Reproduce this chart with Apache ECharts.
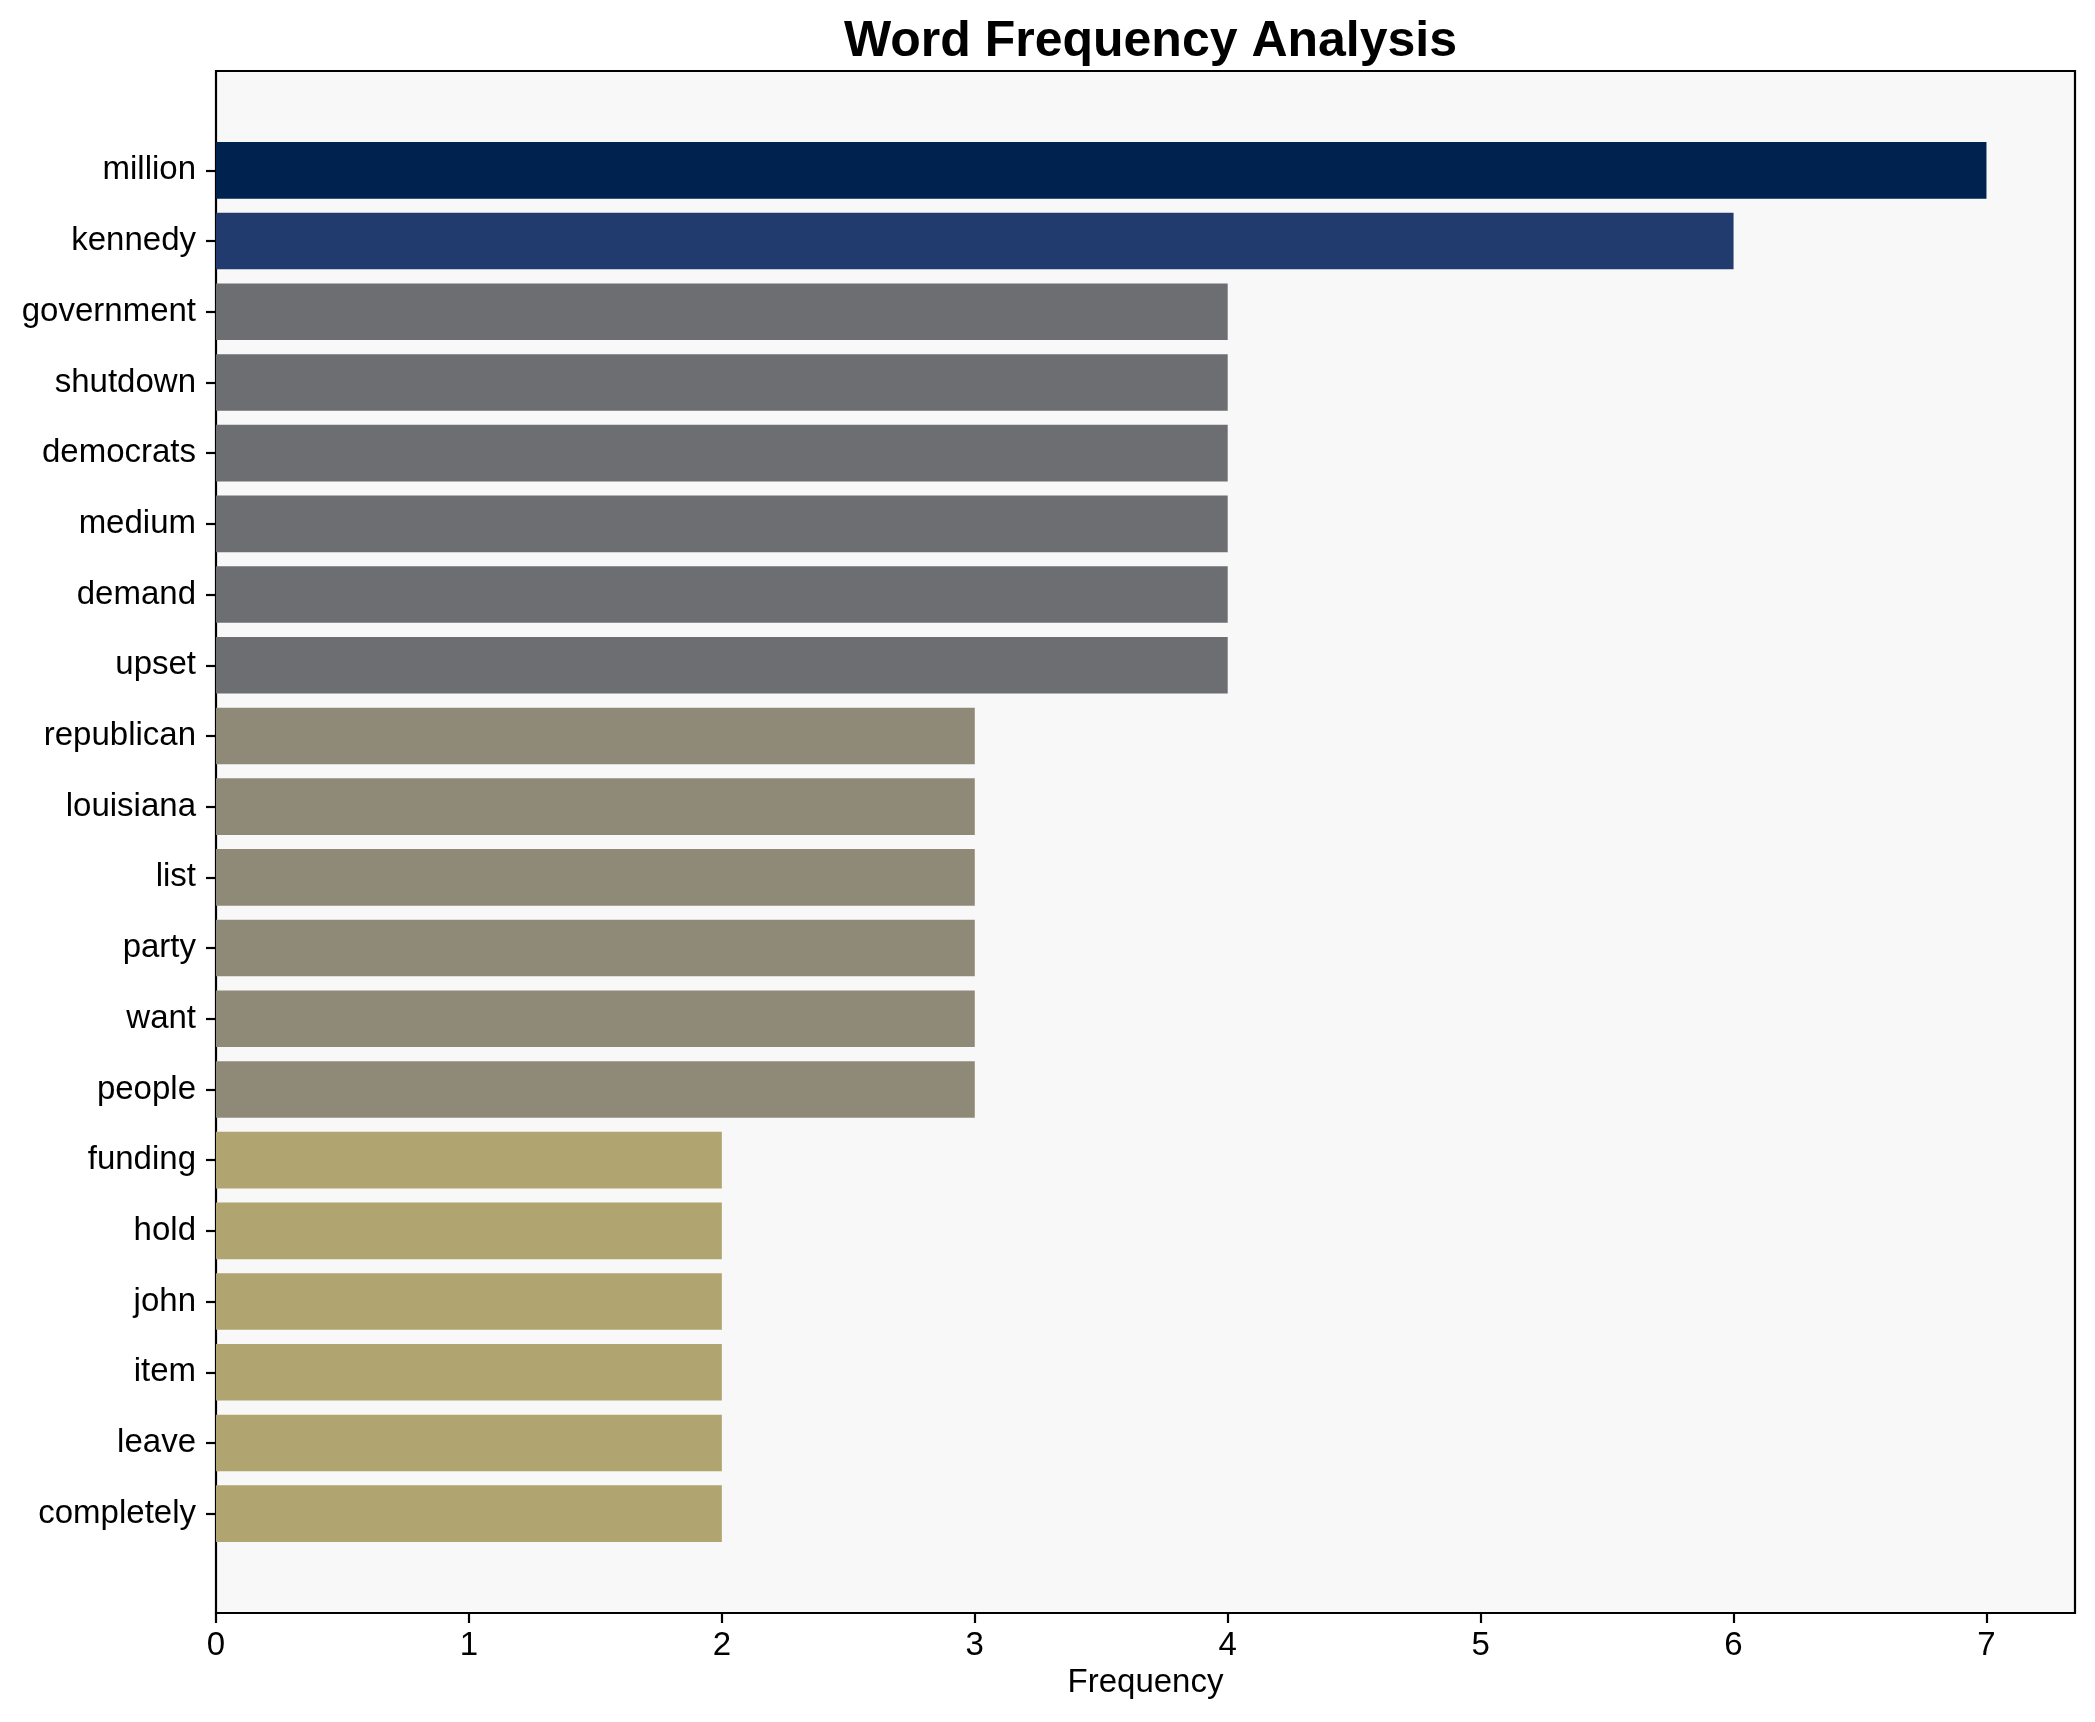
<!DOCTYPE html>
<html>
<head>
<meta charset="utf-8">
<script src="https://cdn.jsdelivr.net/npm/echarts@6/dist/echarts.min.js"></script>
<style>
html,body{margin:0;padding:0;background:#fff;}
#chart{width:2095px;height:1722px;}
</style>
</head>
<body>
<div id="chart"></div>
<script>
const categories = ["million","kennedy","government","shutdown","democrats","medium","demand","upset","republican","louisiana","list","party","want","people","funding","hold","john","item","leave","completely"];
const frequencies = [7,6,4,4,4,4,4,4,3,3,3,3,3,3,2,2,2,2,2,2];
const xTicks = [0,1,2,3,4,5,6,7];
const barColors = ["#00224e","#213b6e","#6d6e72","#6d6e72","#6d6e72","#6d6e72","#6d6e72","#6d6e72","#8f8a78","#8f8a78","#8f8a78","#8f8a78","#8f8a78","#8f8a78","#b0a570","#b0a570","#b0a570","#b0a570","#b0a570","#b0a570"];

const FONT = "'Liberation Sans', Arial, sans-serif";
const chart = echarts.init(document.getElementById('chart'), null, {renderer: 'canvas'});
const plotLeft = 216, plotTop = 71, plotW = 1859, plotH = 1542;
const bandTop = 135, bandH = 1414;

chart.setOption({
  backgroundColor: '#ffffff',
  animation: false,
  title: {
    text: 'Word Frequency Analysis',
    left: plotLeft + plotW / 2,
    textAlign: 'center',
    top: 12,
    textStyle: {fontFamily: FONT, fontWeight: 'bold', fontSize: 50, color: '#000'}
  },
  grid: [
    {left: plotLeft, top: plotTop, width: plotW, height: plotH, show: true,
     backgroundColor: '#f8f8f8', borderColor: '#000', borderWidth: 2.2, containLabel: false},
    {left: plotLeft, top: bandTop, width: plotW, height: bandH, show: false, containLabel: false}
  ],
  xAxis: [
    {gridIndex: 0, type: 'value', min: 0, max: 7.35, interval: 1,
     name: 'Frequency', nameLocation: 'middle', nameGap: 52,
     nameTextStyle: {fontFamily: FONT, fontSize: 33, color: '#000'},
     axisLine: {show: true, lineStyle: {color: '#000', width: 2.2}},
     axisTick: {show: true, length: 10, customValues: xTicks, lineStyle: {color: '#000', width: 2.2}},
     axisLabel: {show: true, margin: 16, customValues: xTicks, fontFamily: FONT, fontSize: 33, color: '#000'},
     splitLine: {show: false}},
    {gridIndex: 1, type: 'value', min: 0, max: 7.35, show: false, splitLine: {show: false}}
  ],
  yAxis: [
    {gridIndex: 0, type: 'value', min: 0, max: 1, show: false, splitLine: {show: false}},
    {gridIndex: 1, type: 'category', data: categories, inverse: true, boundaryGap: true,
     axisLine: {show: false},
     axisTick: {show: true, alignWithLabel: true, length: 10, lineStyle: {color: '#000', width: 2.2}},
     axisLabel: {show: true, margin: 20, interval: 0, fontFamily: FONT, fontSize: 33, color: '#000'},
     splitLine: {show: false}}
  ],
  series: [{
    type: 'bar',
    xAxisIndex: 1, yAxisIndex: 1,
    barWidth: '80%',
    data: frequencies.map((v, i) => ({value: v, itemStyle: {color: barColors[i]}}))
  }]
});
</script>
</body>
</html>
